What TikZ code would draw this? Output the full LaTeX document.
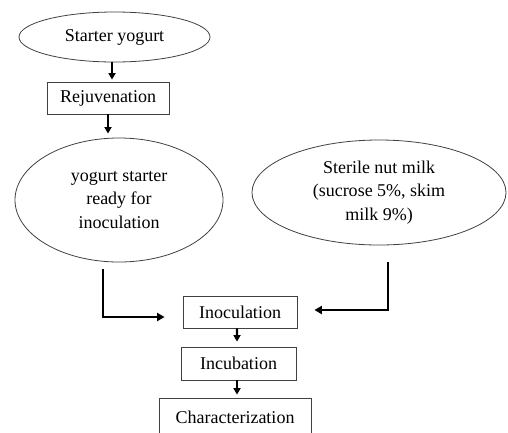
\documentclass[tikz,border=0pt]{standalone}
\usepackage{fontspec}
\setmainfont{Liberation Serif}
\usetikzlibrary{shapes.geometric,arrows.meta}
\begin{document}
\begin{tikzpicture}[x=1bp,y=-1bp,
  every node/.style={font=\fontsize{18bp}{23.5bp}\selectfont, text=black, inner sep=0pt},
  oval/.style={draw=black!75, line width=0.8bp, ellipse, align=center},
  stepbox/.style={draw=black!75, line width=0.8bp, rectangle, align=center},
  arr/.style={line width=2.2bp, -{Triangle[width=7bp,length=6.5bp]}},
  bigarr/.style={line width=2.8bp, line cap=rect, -{Triangle[width=8bp,length=7.5bp]}}]
\useasboundingbox (0,0) rectangle (508,432);
\node[oval, minimum width=191bp, minimum height=50bp] (s1) at (114.5,37) {Starter yogurt};
\node[stepbox, minimum width=122bp, minimum height=32bp] (rej) at (108,98) {Rejuvenation};
\node[oval, minimum width=208bp, minimum height=124bp] (ys) at (119,200) {yogurt starter\\ready for\\inoculation};
\node[oval, minimum width=254bp, minimum height=105bp] (nm) at (379,192.5) {Sterile nut milk\\(sucrose 5\%, skim\\milk 9\%)};
\node[stepbox, minimum width=114bp, minimum height=32bp] (inoc) at (240,312) {Inoculation};
\node[stepbox, minimum width=115bp, minimum height=33bp] (incu) at (238.5,363.5) {Incubation};
\node[stepbox, minimum width=152bp, minimum height=38bp] (char) at (235,417) {Characterization};
\coordinate (l1) at (103,270);
\coordinate (r1) at (388,263);
\draw[arr] ([xshift=-2.5bp]s1.south) -- ([xshift=-2.5bp,yshift=2bp]s1.south |- rej.north);
\draw[arr] (rej.south) -- ([yshift=4bp]rej.south |- ys.north);
\draw[bigarr] (l1) |- ([xshift=-18bp,yshift=-5bp]inoc.west);
\draw[bigarr] (r1) |- ([xshift=17bp,yshift=2bp]inoc.east);
\draw[arr] ([xshift=-3bp]inoc.south) -- ([xshift=-1.5bp,yshift=5bp]incu.north);
\draw[arr] ([xshift=-1.5bp]incu.south) -- ([xshift=-1.5bp,yshift=3bp]incu.south |- char.north);
\end{tikzpicture}
\end{document}
